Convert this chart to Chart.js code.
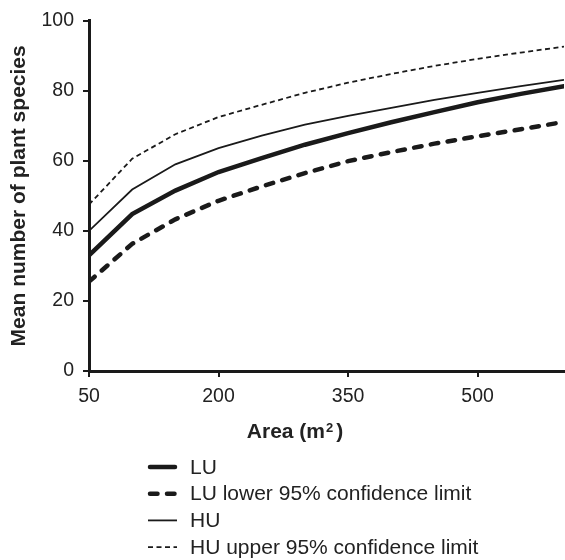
<!DOCTYPE html>
<html>
<head>
<meta charset="utf-8">
<script src="https://cdn.jsdelivr.net/npm/chart.js@4.4.1/dist/chart.umd.min.js"></script>
<style>
  html, body { margin: 0; padding: 0; background: #fff; }
  #wrap { width: 565px; height: 560px; }
</style>
</head>
<body>
<div id="wrap"><canvas id="speciesChart" width="565" height="560"></canvas></div>
<script>
// --- DATA ---
const areas   = [50, 100, 150, 200, 250, 300, 350, 400, 450, 500, 550, 600];
const luMean  = [33, 44.8, 51.5, 56.8, 60.8, 64.6, 67.9, 71.0, 73.9, 76.7, 79.1, 81.3];
const luLower = [25.5, 36.3, 43.3, 48.6, 52.7, 56.5, 59.9, 62.5, 64.9, 67.0, 69.0, 71.1];
const huMean  = [40, 51.8, 59, 63.6, 67.2, 70.3, 72.8, 75.1, 77.4, 79.4, 81.3, 83.1];
const huUpper = [47.5, 60.6, 67.6, 72.5, 76, 79.4, 82.3, 84.8, 87.1, 89.1, 90.9, 92.6];

const xTicks = [50, 200, 350, 500];
const yTicks = [0, 20, 40, 60, 80, 100];
const seriesNames = ['LU', 'LU lower 95% confidence limit', 'HU', 'HU upper 95% confidence limit'];

const INK = '#1a1a1a';
const FONT = 'Liberation Sans, Arial, sans-serif';

const toPoints = vals => vals.map((v, i) => ({ x: areas[i], y: v }));

// --- LEGEND + X TITLE (drawn below the plot, one entry per row) ---
const bottomLegend = {
    id: 'bottomLegend',
    afterDraw(chart) {
        const ctx = chart.ctx;
        ctx.save();

        // x axis title with a raised "2"
        ctx.fillStyle = '#222';
        ctx.textBaseline = 'alphabetic';
        ctx.font = 'bold 21px ' + FONT;
        const partA = 'Area (m';
        const wA = ctx.measureText(partA).width;
        const wC = ctx.measureText(')').width;
        ctx.font = 'bold 13px ' + FONT;
        const wB = ctx.measureText('2').width;
        const total = wA + wB + 4 + wC;
        let tx = 295 - total / 2;
        const base = 438;
        ctx.font = 'bold 21px ' + FONT;
        ctx.fillText(partA, tx, base);
        ctx.font = 'bold 13px ' + FONT;
        ctx.fillText('2', tx + wA + 1, base - 6);
        ctx.font = 'bold 21px ' + FONT;
        ctx.fillText(')', tx + wA + wB + 4, base);

        // legend rows
        ctx.font = '21px ' + FONT;
        ctx.textBaseline = 'middle';
        chart.data.datasets.forEach((ds, i) => {
            const y = 467 + i * 26.7;
            ctx.save();
            ctx.strokeStyle = ds.borderColor;
            ctx.lineWidth = ds.borderWidth;
            ctx.lineCap = ds.borderCapStyle || 'butt';
            ctx.setLineDash(ds.borderDash || []);
            ctx.beginPath();
            ctx.moveTo(ds.borderCapStyle === 'round' ? 150 : 148, y);
            ctx.lineTo(ds.borderCapStyle === 'round' ? 175 : 177, y);
            ctx.stroke();
            ctx.restore();
            ctx.fillStyle = '#222';
            ctx.fillText(ds.label, 190, y + 1);
        });
        ctx.restore();
    }
};

// --- CHART SETUP ---
const ctx = document.getElementById('speciesChart').getContext('2d');
const speciesChart = new Chart(ctx, {
    type: 'line',
    data: {
        datasets: [{
            label: seriesNames[0],
            data: toPoints(luMean),
            borderColor: INK,
            borderWidth: 4.5,
            borderCapStyle: 'round'
        }, {
            label: seriesNames[1],
            data: toPoints(luLower),
            borderColor: INK,
            borderWidth: 4.5,
            borderDash: [7.5, 9.5],
            borderCapStyle: 'round'
        }, {
            label: seriesNames[2],
            data: toPoints(huMean),
            borderColor: INK,
            borderWidth: 1.8
        }, {
            label: seriesNames[3],
            data: toPoints(huUpper),
            borderColor: INK,
            borderWidth: 1.8,
            borderDash: [5, 3.5]
        }]
    },
    options: {
        responsive: false,
        animation: false,
        layout: { padding: { top: 18, right: 1, left: 0, bottom: 0 } },
        elements: {
            point: { radius: 0, hoverRadius: 0 },
            line: { tension: 0, fill: false }
        },
        plugins: {
            legend: { display: false },
            tooltip: { enabled: false }
        },
        scales: {
            x: {
                type: 'linear',
                min: 50,
                max: 600,
                afterBuildTicks: s => { s.ticks = xTicks.map(v => ({ value: v })); },
                afterFit: s => { s.height = 189; },
                ticks: {
                    color: '#222',
                    font: { family: FONT, size: 19.5 },
                    padding: 8,
                    maxRotation: 0,
                    autoSkip: false
                },
                grid: { drawOnChartArea: false, drawTicks: true, tickLength: 6, lineWidth: 2, color: INK },
                border: { display: true, width: 3, color: INK },
                title: { display: false }
            },
            y: {
                min: 0,
                max: 100,
                afterBuildTicks: s => { s.ticks = yTicks.map(v => ({ value: v })); },
                afterFit: s => { s.width = 89; },
                ticks: {
                    color: '#222',
                    font: { family: FONT, size: 19.5 },
                    padding: 9
                },
                grid: { drawOnChartArea: false, drawTicks: true, tickLength: 6, lineWidth: 2, color: INK },
                border: { display: true, width: 3, color: INK },
                title: {
                    display: true,
                    text: 'Mean number of plant species',
                    color: '#222',
                    font: { family: FONT, size: 21, weight: 'bold' },
                    padding: { top: 7, bottom: 0 }
                }
            }
        }
    },
    plugins: [bottomLegend]
});
</script>
</body>
</html>
